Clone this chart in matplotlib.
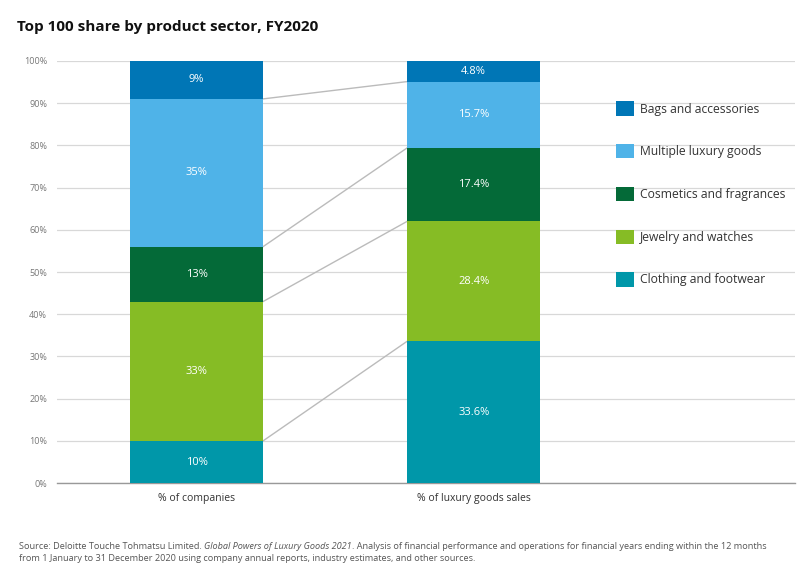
import matplotlib
matplotlib.use("Agg")
import matplotlib.pyplot as plt
from matplotlib.patches import Patch
import numpy as np

plt.rcParams['font.family'] = ['Open Sans', 'DejaVu Sans']

# ---- data ----
groups = ["% of companies", "% of luxury goods sales"]
sectors = ["Clothing and footwear", "Jewelry and watches", "Cosmetics and fragrances",
           "Multiple luxury goods", "Bags and accessories"]
companies = [10, 33, 13, 35, 9]
sales = [33.6, 28.4, 17.4, 15.7, 4.8]
companies_labels = ["10%", "33%", "13%", "35%", "9%"]
sales_labels = ["33.6%", "28.4%", "17.4%", "15.7%", "4.8%"]
colors = ["#0097A9", "#86BC25", "#046A38", "#4FB3E8", "#0076B6"]

fig = plt.figure(figsize=(8, 5.8), dpi=100)
ax = fig.add_axes([0.071, 0.167, 0.923, 0.728])

x = np.arange(len(groups))
width = 0.48
series = [companies, sales]
labels = [companies_labels, sales_labels]

tops = []
for i in range(len(groups)):
    bottom = 0
    col_tops = []
    for j in range(len(sectors)):
        v = series[i][j]
        ax.bar(x[i], v, width, bottom=bottom, color=colors[j], zorder=3)
        ax.text(x[i], bottom + v / 2, labels[i][j], ha="center", va="center",
                color="white", fontsize=8, zorder=4)
        bottom += v
        col_tops.append(bottom)
    tops.append(col_tops)

# connector lines between segment tops
for j in range(len(sectors) - 1):
    ax.plot([x[0] + width / 2, x[1] - width / 2], [tops[0][j], tops[1][j]],
            color="#BBBBBB", lw=1, zorder=2)

ax.set_xlim(-0.504, 2.16)
ax.set_ylim(0, 100)
ax.set_yticks(np.arange(0, 101, 10))
ax.set_yticklabels([f"{t}%" for t in range(0, 101, 10)], color="#777777", fontsize=6.5)
ax.yaxis.grid(True, color="#D8D8D8", lw=0.9, zorder=0)
ax.set_xticks(x)
ax.set_xticklabels(groups, fontsize=7.5, color="#333333")
ax.tick_params(axis="both", length=0)
ax.tick_params(axis="x", pad=7)
ax.tick_params(axis="y", pad=7)
for s in ["top", "right", "left"]:
    ax.spines[s].set_visible(False)
ax.spines["bottom"].set_color("#999999")
ax.spines["bottom"].set_linewidth(1)
ax.set_axisbelow(True)

handles = [Patch(facecolor=colors[j]) for j in reversed(range(len(sectors)))]
leg = ax.legend(handles, list(reversed(sectors)), loc="upper left",
                bbox_to_anchor=(0.743, 0.93), frameon=False, fontsize=8.7,
                handlelength=1.45, handleheight=1.45, handletextpad=0.5,
                labelspacing=2.35, labelcolor="#333333")

fig.text(0.021, 0.953, "Top 100 share by product sector, FY2020", fontsize=11,
         fontweight="bold", color="#111111", va="center")

# source note with italic title part
fig.canvas.draw()
r = fig.canvas.get_renderer()
parts = [("Source: Deloitte Touche Tohmatsu Limited. ", "normal"),
         ("Global Powers of Luxury Goods 2021", "italic"),
         (". Analysis of financial performance and operations for financial years ending within the 12 months", "normal")]
xpos = 0.024
for txt, style in parts:
    t = fig.text(xpos, 0.057, txt, fontsize=6.6, color="#555555", style=style,
                 va="center")
    bb = t.get_window_extent(renderer=r)
    xpos += bb.width / fig.bbox.width
fig.text(0.024, 0.037, "from 1 January to 31 December 2020 using company annual reports, industry estimates, and other sources.",
         fontsize=6.6, color="#555555", va="center")

fig.savefig("out.png", dpi=100)
